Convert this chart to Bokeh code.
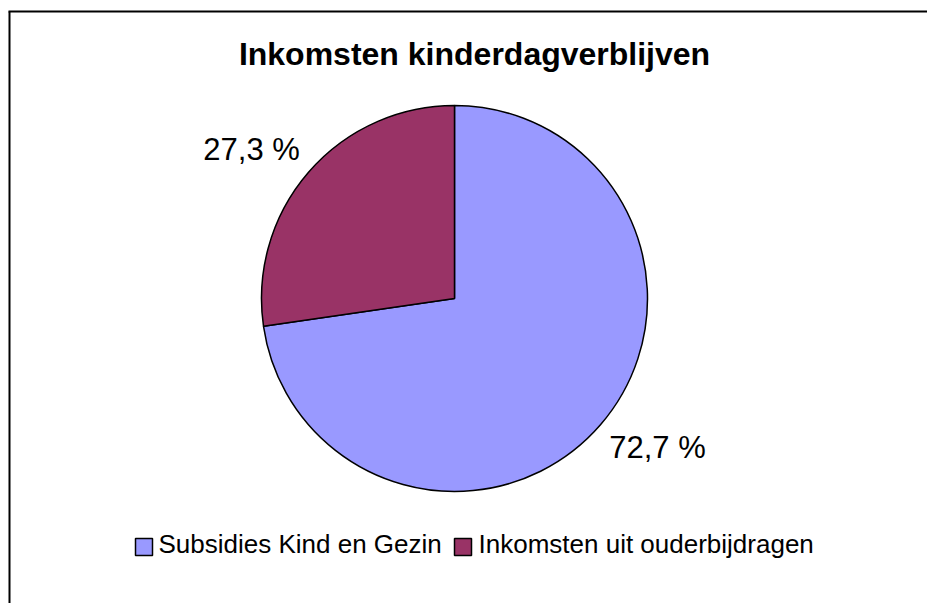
import math
from bokeh.plotting import figure
from bokeh.models import Range1d
from bokeh.core.properties import value
from bokeh.embed import file_html
from bokeh.resources import INLINE

# ---- data ----
title_text = "Inkomsten kinderdagverblijven"
categories = ["Subsidies Kind en Gezin", "Inkomsten uit ouderbijdragen"]
shares = [72.7, 27.3]
slice_labels = ["72,7 %", "27,3 %"]
colors = ["#9999FF", "#993366"]

W, H = 927, 603
FONT = "Liberation Sans"

p = figure(width=W, height=H, output_backend="svg", toolbar_location=None,
           x_range=Range1d(0, W), y_range=Range1d(0, H), min_border=0)
p.axis.visible = False
p.grid.visible = False
p.outline_line_color = None
p.background_fill_color = "white"
p.border_fill_color = "white"

# border (left and top visible)
p.line([9, 9], [0, 592], line_color="black", line_width=2)
p.line([8, W], [592, 592], line_color="black", line_width=2)

# pie
cx, cy, R = 454, 305, 193
total = sum(shares)
blue_span = 2 * math.pi * shares[0] / total
starts = [math.pi / 2 - blue_span, math.pi / 2]
ends = [math.pi / 2, math.pi / 2 + 2 * math.pi * shares[1] / total]
p.wedge(x=[cx, cx], y=[cy, cy], radius=R, start_angle=starts, end_angle=ends,
        fill_color=colors, line_color="black", line_width=1.5)

# slice labels
lx, ly = [], []
for s, e in zip(starts, ends):
    mid = (s + e) / 2 + math.radians(4.5)
    lx.append(cx + 252 * math.cos(mid))
    ly.append(cy + 252 * math.sin(mid))
p.text(x=lx, y=ly, text=slice_labels, text_font=value(FONT), text_font_size="31px",
       text_align="center", text_baseline="middle", text_color="black")

# title
p.text(x=[474], y=[550], text=[title_text], text_font=value(FONT), text_font_size="32px",
       text_font_style="bold", text_align="center", text_baseline="alphabetic",
       text_color="black")

# legend
box_x = [143.5, 462.5]
text_x = [158, 478]
p.rect(x=box_x, y=[56.5, 56.5], width=17, height=17, fill_color=colors,
       line_color="black", line_width=1.5)
p.text(x=text_x, y=[60, 60], text=categories, text_font=value(FONT),
       text_font_size="26px", text_align="left", text_baseline="alphabetic",
       text_color="black")

open("out.html", "w").write(file_html(p, INLINE))
